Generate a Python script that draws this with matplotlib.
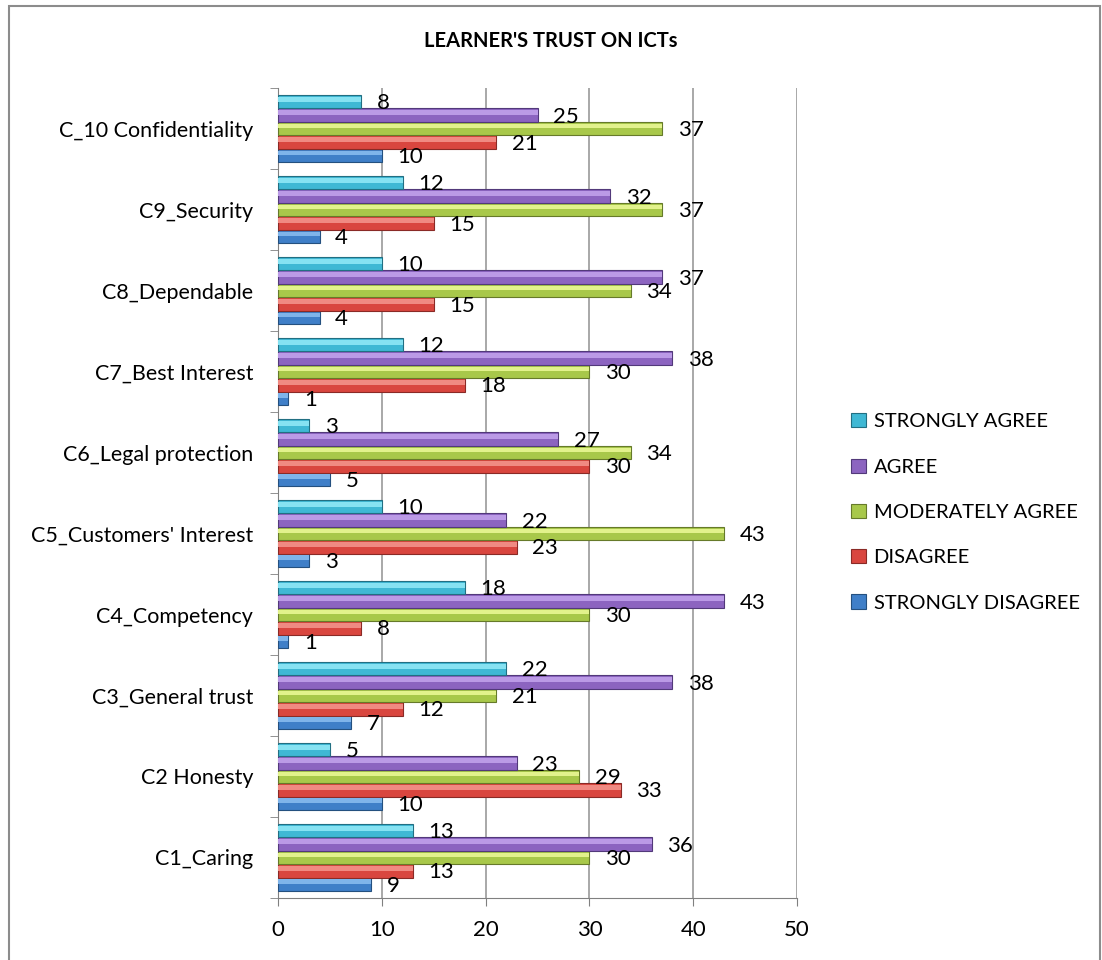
import matplotlib.pyplot as plt
import numpy as np

# Data
categories = ['C1_Caring', 'C2 Honesty', 'C3_General trust', 'C4_Competency',
              "C5_Customers' Interest", 'C6_Legal protection', 'C7_Best Interest',
              'C8_Dependable', 'C9_Security', 'C_10 Confidentiality']
strongly_disagree = [9, 10, 7, 1, 3, 5, 1, 4, 4, 10]
disagree = [13, 33, 12, 8, 23, 30, 18, 15, 15, 21]
moderately_agree = [30, 29, 21, 30, 43, 34, 30, 34, 37, 37]
agree = [36, 23, 38, 43, 22, 27, 38, 37, 32, 25]
strongly_agree = [13, 5, 22, 18, 10, 3, 12, 10, 12, 8]

series = [('STRONGLY DISAGREE', strongly_disagree, '#3f7fc8', '#7fb4ea', '#24507f'),
          ('DISAGREE', disagree, '#d9463f', '#f08a82', '#8a2a26'),
          ('MODERATELY AGREE', moderately_agree, '#a8c84a', '#e2f28c', '#667a2a'),
          ('AGREE', agree, '#8c64c0', '#bb9ae6', '#52397a'),
          ('STRONGLY AGREE', strongly_agree, '#3fb8d4', '#86e2f2', '#226f82')]

plt.rcParams['font.family'] = ['Lato', 'DejaVu Sans']

fig = plt.figure(figsize=(11.02, 9.6), dpi=100)
ax = fig.add_axes([0.2523, 0.0646, 0.4709, 0.8437])

y = np.arange(len(categories))
h = 0.165
offsets = (np.arange(5) - 2) * h

for (name, vals, col, light, dark), off in zip(series, offsets):
    ax.barh(y + off, vals, height=h, color=col, edgecolor=dark, linewidth=0.8,
            label=name, zorder=3)
    # bevel highlight
    ax.barh(y + off + h * 0.18, vals, height=h * 0.35, color=light,
            linewidth=0, zorder=4)
    for yi, v in zip(y + off, vals):
        ax.text(v + 1.5, yi - 0.02, str(v), va='center', ha='left',
                fontsize=16, zorder=5)

ax.set_xlim(0, 50)
ax.set_ylim(-0.5, len(categories) - 0.5)
ax.set_xticks(np.arange(0, 51, 10))
ax.set_yticks(y)
ax.set_yticklabels(categories, fontsize=15.5)
ax.set_yticks(np.arange(-0.5, len(categories), 1), minor=True)
ax.tick_params(axis='y', which='major', length=0, pad=18)
ax.tick_params(axis='y', which='minor', length=6, color='#808080')
ax.tick_params(axis='x', labelsize=16, length=6, color='#808080', pad=10)
ax.xaxis.grid(True, color='#9a9a9a', linewidth=1.2, zorder=0)
for s in ['top', 'right']:
    ax.spines[s].set_visible(False)
ax.spines['left'].set_color('#808080')
ax.spines['bottom'].set_color('#808080')

handles, labels = ax.get_legend_handles_labels()
ax.legend(handles[::-1], labels[::-1], loc='center left',
          bbox_to_anchor=(1.07, 0.476), frameon=False, fontsize=14.5,
          handlelength=0.7, handleheight=0.7, handletextpad=0.4,
          labelspacing=1.4)

fig.text(0.5, 0.957, "LEARNER'S TRUST ON ICTs", ha='center', va='center',
         fontsize=14.5, fontweight='bold')

# outer chart border
fig.add_artist(plt.Rectangle((0.0082, -0.01), 0.99, 1.0035, transform=fig.transFigure,
                             fill=False, edgecolor='#8c8c8c', linewidth=1.5))

fig.savefig('out.png', dpi=100)
